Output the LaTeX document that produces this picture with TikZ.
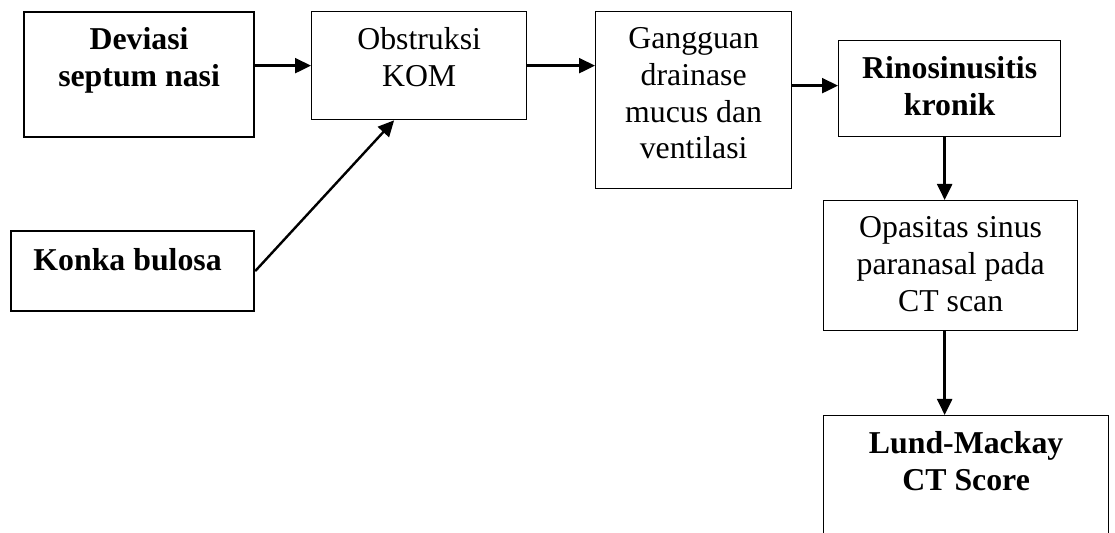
\documentclass[tikz,border=0pt]{standalone}
\usepackage{fontspec}
\setmainfont{Liberation Serif}
\usetikzlibrary{positioning,arrows.meta,calc}

\begin{document}
\begin{tikzpicture}[x=0.5pt, y=-0.5pt,
    box/.style={draw, line width=0.65pt, anchor=north west, inner sep=0pt},
    boxb/.style={box, line width=1.1pt},
    txt/.style={anchor=north, inner sep=0pt, align=center, yshift=-8pt,
                font=\fontsize{15.9}{18.4}\selectfont,
                execute at begin node={\rule{0pt}{12pt}}},
    txtb/.style={txt, font=\fontsize{15.9}{18.4}\selectfont\bfseries},
    arr/.style={-{Triangle[length=8pt,width=7.5pt]}, line width=1.2pt},
  ]
  \useasboundingbox (0,0) rectangle (1115,533);
  \clip (0,0) rectangle (1115,533);
  % Deviasi septum
  \node[boxb, minimum width=115pt, minimum height=62.5pt] (dev) at (23,11) {};
  \node[txtb] (devtxt) at (dev.north) {Deviasi\\septum nasi};
  % Konka bulosa
  \node[boxb, minimum width=121.5pt, minimum height=40pt] (konka) at (10,230) {};
  \node[txtb, xshift=-2.5pt] (konkatxt) at (konka.north) {Konka bulosa};
  % Obstruksi KOM
  \node[box, minimum width=107.5pt, minimum height=54pt] (obs) at (311,11) {};
  \node[txt] (obstxt) at (obs.north) {Obstruksi\\KOM};
  % Gangguan drainase
  \node[box, minimum width=98pt, minimum height=88.5pt] (gang) at (595,11) {};
  \node[txt] (gangtxt) at (gang.north) {Gangguan\\drainase\\mucus dan\\ventilasi};
  % Rinosinusitis
  \node[box, minimum width=111pt, minimum height=48pt] (rino) at (838,40) {};
  \node[txtb] (rinotxt) at (rino.north) {Rinosinusitis\\kronik};
  % Opasitas
  \node[box, minimum width=127pt, minimum height=65pt] (opa) at (823,200) {};
  \node[txt] (opatxt) at (opa.north) {Opasitas sinus\\paranasal pada\\CT scan};
  % Lund-Mackay (runs off the page)
  \node[box, minimum width=142.5pt, minimum height=75pt] (lund) at (823,415) {};
  \node[txtb] (lundtxt) at (lund.north) {Lund-Mackay\\CT Score};
  % arrows
  \draw[arr] (dev.east |- obs.west) -- (obs.west);
  \draw[arr] (konka.east) -- ([xshift=-12.5pt]obs.south);
  \draw[arr] (obs.east) -- (obs.east -| gang.west);
  \draw[arr] ([yshift=1.5pt]rino.west -| gang.east) -- ([yshift=1.5pt]rino.west);
  \draw[arr] ([xshift=-2.5pt]rino.south) -- ([xshift=-2.5pt]rino.south |- opa.north);
  \draw[arr] ([xshift=-3pt]opa.south) -- ([xshift=-3pt]opa.south |- lund.north);
\end{tikzpicture}
\end{document}
